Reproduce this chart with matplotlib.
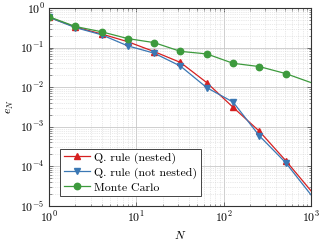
import matplotlib
matplotlib.use("Agg")
import matplotlib.pyplot as plt
import numpy as np

plt.rcParams['font.family'] = 'serif'
plt.rcParams['font.serif'] = ['cmr10', 'DejaVu Serif']
plt.rcParams['mathtext.fontset'] = 'cm'
plt.rcParams['axes.formatter.use_mathtext'] = True
plt.rcParams['axes.unicode_minus'] = False

N = [1, 2, 4, 8, 16, 32, 64, 128, 256, 512, 1000]
nested = [0.58, 0.33, 0.22, 0.14, 0.079, 0.042, 0.013, 0.0031, 7.7e-4, 1.4e-4, 2.4e-5]
not_nested = [0.58, 0.32, 0.21, 0.11, 0.072, 0.034, 0.0097, 0.0042, 5.9e-4, 1.24e-4, 1.9e-5]
monte_carlo = [0.60, 0.34, 0.25, 0.168, 0.133, 0.080, 0.069, 0.040, 0.033, 0.022, 0.013]
labels = ['Q. rule (nested)', 'Q. rule (not nested)', 'Monte Carlo']

fig = plt.figure(figsize=(3.24, 2.4), dpi=100)
ax = fig.add_axes([0.151, 0.142, 0.809, 0.825])

mk = list(range(len(N) - 1))
ax.plot(N, nested, color='#d62020', lw=0.9, marker='^', ms=4.2, markevery=mk, label=labels[0])
ax.plot(N, not_nested, color='#3b78b4', lw=0.9, marker='v', ms=4.2, markevery=mk, label=labels[1])
ax.plot(N, monte_carlo, color='#3d9a3d', lw=0.9, marker='o', ms=4.6, markevery=mk, label=labels[2])

ax.set_xscale('log')
ax.set_yscale('log')
ax.set_xlim(1, 1000)
ax.set_ylim(1e-5, 1)
ax.set_xticks([1, 10, 100, 1000])
ax.set_yticks([1e-5, 1e-4, 1e-3, 1e-2, 1e-1, 1])

ax.grid(True, which='major', color='#c8c8c8', lw=0.6, ls='-')
ax.grid(True, which='minor', color='#d4d4d4', lw=0.5, ls=':')
ax.set_axisbelow(True)

ax.tick_params(which='both', direction='in', top=True, right=True, labelsize=8.5, pad=3)
ax.tick_params(which='major', length=3, width=0.5, color='#444444')
ax.tick_params(which='minor', length=1.8, width=0.4, color='#444444')
for s in ax.spines.values():
    s.set_color('#333333')
    s.set_linewidth(0.8)

ax.set_xlabel('$N$', fontsize=8.5, labelpad=3)
ax.set_ylabel('$e_N$', fontsize=8.5, labelpad=3)

leg = ax.legend(loc='lower left', fontsize=8.5, fancybox=False, edgecolor='#444444',
                framealpha=1, handlelength=2.2, borderpad=0.3, labelspacing=0.3,
                handletextpad=0.4, bbox_to_anchor=(0.02, 0.02))
leg.get_frame().set_linewidth(0.7)

fig.savefig('out.png', dpi=100)
